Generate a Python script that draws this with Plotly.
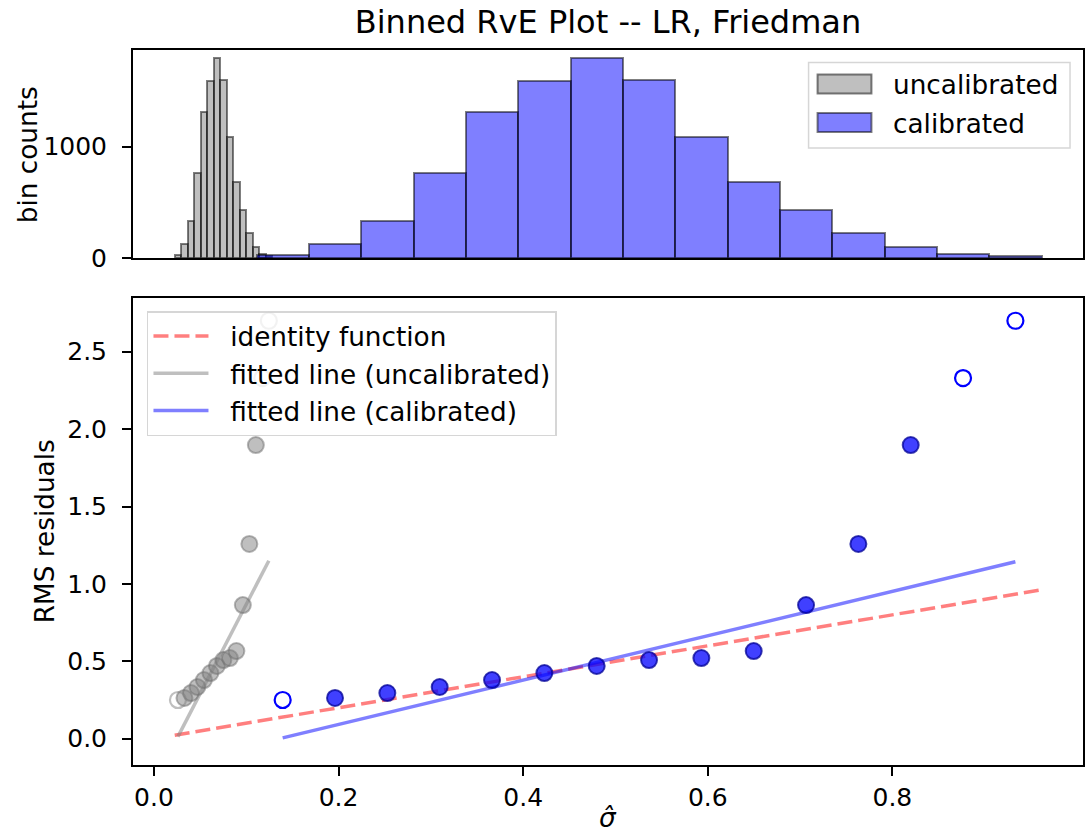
import numpy as np
import plotly.graph_objects as go

# ---- data ----
gray_edges = [0.0225, 0.0295, 0.0366, 0.0436, 0.0506, 0.0577, 0.0647, 0.0717,
              0.0787, 0.0858, 0.0928, 0.0998, 0.1069, 0.1139, 0.1209, 0.1280]
blue_edges = [0.1111, 0.1678, 0.2245, 0.2812, 0.3379, 0.3946, 0.4513, 0.5080,
              0.5647, 0.6214, 0.6781, 0.7348, 0.7915, 0.8482, 0.9049, 0.9616]
bin_counts = [30, 125, 335, 760, 1310, 1585, 1790, 1598, 1090, 681, 430, 225, 95, 35, 14]
rms_resid = [0.25, 0.263, 0.295, 0.334, 0.379, 0.424, 0.47, 0.508, 0.521, 0.566,
             0.863, 1.258, 1.897, 2.33, 2.70]
fit_uncal = [0.013, 1.15]   # fitted line values at first / last bin centre
fit_cal = [0.005, 1.143]
hist_labels = ["uncalibrated", "calibrated"]
line_labels = ["identity function", "fitted line (uncalibrated)", "fitted line (calibrated)"]
x_ticks = [0.0, 0.2, 0.4, 0.6, 0.8]
y_ticks = [0.0, 0.5, 1.0, 1.5, 2.0, 2.5]
count_ticks = [0, 1000]

ge = np.array(gray_edges)
be = np.array(blue_edges)
g_c = (ge[:-1] + ge[1:]) / 2
b_c = (be[:-1] + be[1:]) / 2
g_w = np.diff(ge)
b_w = np.diff(be)
cnt = np.array(bin_counts)
rms = np.array(rms_resid)
sparse = cnt < 50

FONT = "DejaVu Sans"
FS = 25      # tick labels
LFS = 26.3   # legend / axis labels

GRAY_FILL = "rgba(128,128,128,0.5)"
BLUE_FILL = "rgba(0,0,255,0.5)"
EDGE = "rgba(0,0,0,0.5)"

# plotting area in pixels
PL, PR, PT, PB = 133, 1085, 50, 765


def px(x):
    return (x - PL) / (PR - PL)


def py(y):
    return (PB - y) / (PB - PT)


fig = go.Figure()

# ---- top: histograms ----
fig.add_trace(go.Bar(x=g_c, y=cnt, width=g_w, name=hist_labels[0], showlegend=False,
                     marker=dict(color=GRAY_FILL, line=dict(color=EDGE, width=2)),
                     xaxis="x", yaxis="y"))
fig.add_trace(go.Bar(x=b_c, y=cnt, width=b_w, name=hist_labels[1], showlegend=False,
                     marker=dict(color=BLUE_FILL, line=dict(color=EDGE, width=2)),
                     xaxis="x", yaxis="y"))

# ---- bottom: lines ----
lo, hi = min(gray_edges), max(blue_edges)
NB = "\u00a0\u00a0"
fig.add_trace(go.Scatter(x=[lo, hi], y=[lo, hi], mode="lines", name=NB + line_labels[0],
                         line=dict(color="rgba(255,0,0,0.5)", width=3.5, dash="15px,6px"),
                         xaxis="x2", yaxis="y2", legend="legend2"))
fig.add_trace(go.Scatter(x=[g_c[0], g_c[-1]], y=fit_uncal, mode="lines",
                         name=NB + line_labels[1],
                         line=dict(color="rgba(128,128,128,0.5)", width=3.5),
                         xaxis="x2", yaxis="y2", legend="legend2"))
fig.add_trace(go.Scatter(x=[b_c[0], b_c[-1]], y=fit_cal, mode="lines",
                         name=NB + line_labels[2],
                         line=dict(color="rgba(0,0,255,0.5)", width=3.5),
                         xaxis="x2", yaxis="y2", legend="legend2"))

# ---- bottom: points ----
fig.add_trace(go.Scatter(x=g_c[~sparse], y=rms[~sparse], mode="markers", showlegend=False,
                         marker=dict(size=16, color="rgba(128,128,128,0.5)",
                                     line=dict(color="rgba(110,110,110,0.5)", width=2)),
                         xaxis="x2", yaxis="y2"))
fig.add_trace(go.Scatter(x=g_c[sparse], y=rms[sparse], mode="markers", showlegend=False,
                         marker=dict(size=16, symbol="circle-open", color="rgba(128,128,128,0.5)",
                                     line=dict(width=2.2)),
                         xaxis="x2", yaxis="y2"))
fig.add_trace(go.Scatter(x=b_c[~sparse], y=rms[~sparse], mode="markers", showlegend=False,
                         marker=dict(size=16, color="rgba(0,0,255,0.75)",
                                     line=dict(color="rgba(0,0,150,0.75)", width=2)),
                         xaxis="x2", yaxis="y2"))
fig.add_trace(go.Scatter(x=b_c[sparse], y=rms[sparse], mode="markers", showlegend=False,
                         marker=dict(size=16, symbol="circle-open", color="rgb(0,0,255)",
                                     line=dict(width=2.2)),
                         xaxis="x2", yaxis="y2"))

axis_common = dict(showline=True, mirror=True, linecolor="black", linewidth=2,
                   showgrid=False, zeroline=False,
                   tickfont=dict(family=FONT, size=FS, color="black"))

# ---- manual legend for the histograms (matplotlib-like patches) ----
shapes = [
    dict(type="rect", xref="paper", yref="paper", x0=px(810), x1=px(1072),
         y0=py(148), y1=py(62.5), line=dict(color="rgba(204,204,204,0.8)", width=1.5),
         fillcolor="rgba(255,255,255,0.8)", layer="above"),
    dict(type="rect", xref="paper", yref="paper", x0=px(819), x1=px(873),
         y0=py(93.5), y1=py(74.5), line=dict(color=EDGE, width=2),
         fillcolor=GRAY_FILL, layer="above"),
    dict(type="rect", xref="paper", yref="paper", x0=px(819), x1=px(873),
         y0=py(132), y1=py(113), line=dict(color=EDGE, width=2),
         fillcolor=BLUE_FILL, layer="above"),
]
annotations = [
    dict(text=hist_labels[0], xref="paper", yref="paper", x=px(893), y=py(85),
         xanchor="left", yanchor="middle", showarrow=False,
         font=dict(family=FONT, size=LFS, color="black")),
    dict(text=hist_labels[1], xref="paper", yref="paper", x=px(893), y=py(123.5),
         xanchor="left", yanchor="middle", showarrow=False,
         font=dict(family=FONT, size=LFS, color="black")),
    dict(text="bin counts", xref="paper", yref="paper", x=px(28),
         y=py(155), textangle=-90, showarrow=False,
         xanchor="center", yanchor="middle", font=dict(family=FONT, size=LFS, color="black")),
    dict(text="RMS residuals", xref="paper", yref="paper", x=px(45),
         y=py(531), textangle=-90, showarrow=False,
         xanchor="center", yanchor="middle", font=dict(family=FONT, size=LFS, color="black")),
    dict(text="<i>σ̂</i>", xref="paper", yref="paper", x=0.5,
         y=py(818), showarrow=False,
         xanchor="center", yanchor="middle", font=dict(family=FONT, size=LFS, color="black")),
]

tick_common = dict(ticks="outside", ticklen=9, tickwidth=2, tickcolor="black")

fig.update_layout(
    width=1086, height=835,
    margin=dict(l=PL, r=1086 - PR, t=PT, b=835 - PB),
    paper_bgcolor="white", plot_bgcolor="white",
    barmode="overlay", bargap=0,
    font=dict(family=FONT, size=FS, color="black"),
    title=dict(text="Binned RvE Plot -- LR, Friedman", x=0.5, xref="paper",
               y=1 - 22 / 835, yanchor="middle", font=dict(family=FONT, size=32, color="black")),
    xaxis=dict(domain=[0, 1], range=[-0.0227, 1.0065], anchor="y", matches="x2",
               showticklabels=False, ticks="", **axis_common),
    yaxis=dict(domain=[py(258), 1.0], range=[0, 1866], tickvals=count_ticks,
               ticklabelstandoff=10, **tick_common, **axis_common),
    xaxis2=dict(domain=[0, 1], range=[-0.0227, 1.0065], anchor="y2",
                tickvals=x_ticks, tickformat=".1f",
                **tick_common, **axis_common),
    yaxis2=dict(domain=[0, py(298)], range=[-0.17, 2.847], anchor="x2",
                tickvals=y_ticks, tickformat=".1f", ticklabelstandoff=10,
                **tick_common, **axis_common),
    legend2=dict(x=px(147), y=py(311), xanchor="left", yanchor="top",
                 bgcolor="rgba(255,255,255,0.8)", bordercolor="rgba(204,204,204,0.8)",
                 borderwidth=1.5, font=dict(family=FONT, size=LFS, color="black"),
                 itemwidth=55),
    shapes=shapes,
    annotations=annotations,
)

fig.write_html("out.html", config={"displayModeBar": False},
               post_script="document.body.style.margin='0';document.body.style.overflow='hidden';")
